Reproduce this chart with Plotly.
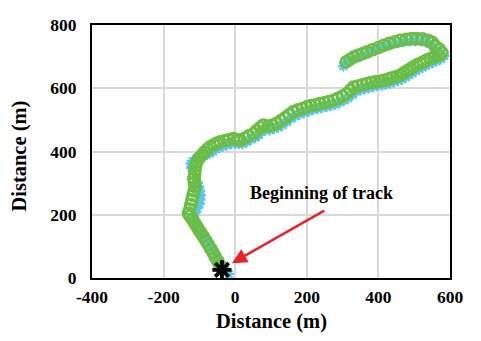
import plotly.graph_objects as go

# Estimated track (green open circles)
track_x = [-38, -44, -50, -56, -61, -68, -75, -82, -89, -96, -102, -107, -114, -120, -126, -131,
           -127, -124, -121, -118, -115, -112, -114, -116, -113, -112, -110, -107, -100, -93,
           -86, -78, -70, -60, -51, -42, -30, -18, -5, 5, 14, 26, 38, 51, 60, 70, 79, 92, 104, 116,
           128, 140, 151, 163, 175, 188, 200, 212, 225, 237, 250, 262, 275, 287, 300, 312, 322, 331,
           343, 356, 368, 380, 392, 404, 415, 427, 438, 450, 461, 470, 480, 489, 498, 508, 517, 526,
           535, 546, 557, 568, 578, 570, 558, 550, 538, 523, 508, 493, 478, 461, 446, 430, 415, 400,
           384, 368, 355, 343, 331, 320, 310]
track_y = [30, 42, 55, 67, 79, 92, 105, 118, 131, 143, 153, 163, 175, 186, 196, 205,
           218, 232, 247, 261, 275, 289, 302, 316, 329, 342, 355, 368, 380, 389,
           398, 407, 415, 421, 427, 431, 434, 437, 441, 437, 436, 442, 450, 457, 466, 476, 484, 480, 484, 489,
           498, 507, 517, 526, 532, 536, 541, 545, 548, 552, 555, 558, 562, 568, 575, 583, 594, 604,
           607, 611, 615, 618, 620, 622, 625, 629, 633, 637, 641, 648, 655, 661, 668, 674, 679, 684,
           689, 694, 699, 704, 712, 724, 734, 745, 752, 756, 757, 757, 755, 752, 747, 742, 736, 729,
           722, 715, 709, 704, 699, 691, 684]

# Measured track (light blue asterisks)
meas_x = [-18, -28, -36, -42, -50, -56, -62, -70, -78, -86, -92, -97, -104, -110, -116, -120,
          -112, -106, -100, -98, -97, -99, -102, -106, -122, -124, -118, -108, -98, -88,
          -80, -72, -62, -55, -46, -35, -24, -12, 0, 10, 20, 32, 44, 56, 66, 74, 84, 96, 108, 120,
          132, 144, 156, 168, 180, 192, 205, 217, 230, 242, 255, 267, 280, 292, 304, 316, 328, 338,
          350, 362, 374, 386, 398, 410, 421, 433, 444, 455, 466, 476, 486, 495, 504, 514, 523, 532,
          541, 552, 562, 574, 584, 568, 555, 544, 532, 518, 503, 488, 472, 456, 440, 425, 410, 395,
          380, 364, 350, 338, 326, 312, 302]
meas_y = [12, 26, 40, 52, 64, 76, 89, 102, 116, 128, 139, 148, 160, 172, 182, 192,
          206, 220, 234, 248, 262, 276, 290, 304, 348, 362, 370, 378, 382, 386,
          390, 394, 400, 407, 412, 416, 420, 424, 426, 424, 424, 430, 438, 444, 452, 462, 469, 468, 472, 476,
          484, 494, 504, 512, 518, 522, 527, 532, 535, 539, 542, 545, 549, 555, 562, 569, 580, 590,
          594, 598, 601, 605, 608, 610, 612, 616, 620, 624, 628, 635, 642, 648, 655, 661, 666, 671,
          676, 681, 686, 692, 702, 716, 728, 740, 746, 749, 749, 749, 747, 744, 740, 735, 729, 722,
          715, 708, 702, 697, 692, 683, 670]

start_x = [-37]
start_y = [26]

note_text = "Beginning of track"
note_pos = (241, 268)
arrow_tail = (253, 216)
arrow_head = (-9, 47)

x_title = "Distance (m)"
y_title = "Distance (m)"

x_ticks = [-400, -200, 0, 200, 400, 600]
y_ticks = [0, 200, 400, 600, 800]

FONT = "Liberation Serif"

fig = go.Figure()
fig.add_trace(go.Scatter(
    x=meas_x, y=meas_y, mode="markers",
    marker=dict(symbol="asterisk-open", size=9, color="#5BC6EA",
                line=dict(color="#5BC6EA", width=2.2)),
    hoverinfo="skip"))
fig.add_trace(go.Scatter(
    x=track_x, y=track_y, mode="markers",
    marker=dict(symbol="circle-open", size=11, color="#6CBD45",
                line=dict(color="#6CBD45", width=2.6)),
    hoverinfo="skip"))
fig.add_trace(go.Scatter(
    x=start_x, y=start_y, mode="markers",
    marker=dict(symbol="asterisk-open", size=16, color="black",
                line=dict(color="black", width=3.8)),
    hoverinfo="skip"))

fig.add_annotation(
    x=arrow_head[0], y=arrow_head[1], ax=arrow_tail[0], ay=arrow_tail[1],
    xref="x", yref="y", axref="x", ayref="y",
    text="", showarrow=True, arrowhead=2, arrowsize=1.2, arrowwidth=2.5,
    arrowcolor="#E8232B")
fig.add_annotation(
    x=note_pos[0], y=note_pos[1], xref="x", yref="y",
    text=note_text, showarrow=False,
    font=dict(family=FONT, size=18, color="black", weight="bold"))

title_font = dict(family=FONT, size=20.5, color="black", weight="bold")
fig.add_annotation(x=0.5, y=-0.122, xref="paper", yref="paper", text=x_title,
                   showarrow=False, xanchor="center", yanchor="top", font=title_font,
                   borderpad=0)
fig.add_annotation(x=-0.201, y=0.48, xref="paper", yref="paper", text=y_title,
                   showarrow=False, xanchor="center", yanchor="middle", textangle=-90,
                   font=title_font)

axis_common = dict(
    showline=True, mirror=True, linecolor="black", linewidth=2,
    showgrid=True, gridcolor="#D9D9D9", gridwidth=1.5,
    zeroline=False, ticks="",
    tickfont=dict(family=FONT, size=17.5, color="black", weight="bold"),
)

fig.update_xaxes(range=[-400, 600], tickvals=x_ticks, ticktext=[str(v) for v in x_ticks],
                 ticklabelstandoff=2, **axis_common)
fig.update_yaxes(range=[0, 800], tickvals=y_ticks, ticktext=[str(v) for v in y_ticks],
                 ticklabelstandoff=10, **axis_common)

fig.update_layout(
    width=481, height=341,
    margin=dict(l=92, r=31, t=25, b=63, autoexpand=False),
    paper_bgcolor="white", plot_bgcolor="white",
    showlegend=False,
)

fig.write_html("out.html")
